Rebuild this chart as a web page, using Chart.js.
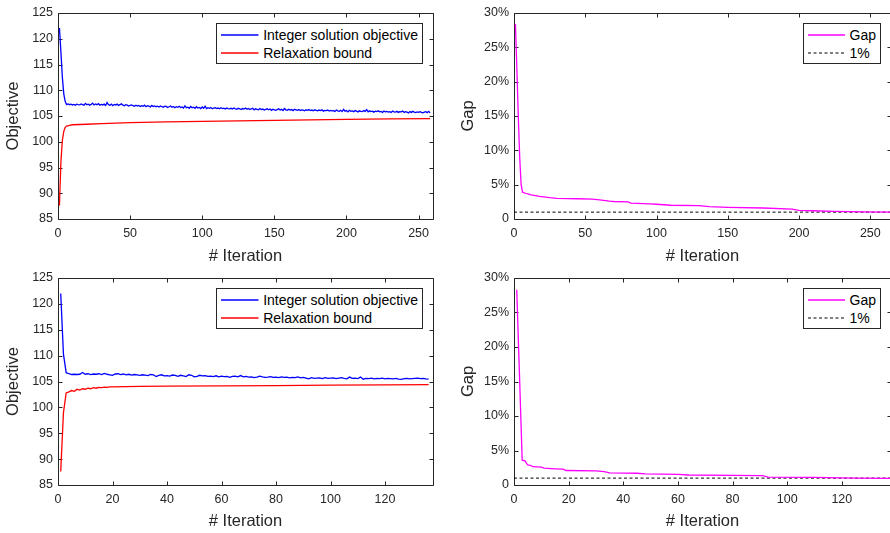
<!DOCTYPE html>
<html>
<head>
<meta charset="utf-8">
<script src="https://cdn.jsdelivr.net/npm/chart.js@4.4.1/dist/chart.umd.min.js"></script>
<style>
  html, body { margin: 0; padding: 0; background: #fff; }
  body { width: 890px; height: 533px; overflow: hidden; position: relative; font-family: "Liberation Sans", Arial, Helvetica, sans-serif; }
  canvas { position: absolute; }
  .legend { position: absolute; background: #fff; border: 1px solid #262626; padding: 1.5px 4px 1px 4px; font-size: 14px; color: #000; }
  .legend .row { display: flex; align-items: center; height: 18px; white-space: nowrap; }
  .legend svg { flex: none; margin-right: 4.5px; }
</style>
</head>
<body>
<canvas id="objTop" width="445" height="265" style="left:0;top:0"></canvas>
<canvas id="gapTop" width="450" height="265" style="left:445px;top:0"></canvas>
<canvas id="objBot" width="445" height="268" style="left:0;top:265px"></canvas>
<canvas id="gapBot" width="450" height="268" style="left:445px;top:265px"></canvas>
<script>
// ---- run 1 (top row), one value per iteration for the incumbent ----
const incumbentTop = [
  122.1, 117.5, 112.6, 109.3, 107.8, 107.2, 107.35, 107.2, 107.3, 107.15,
  107.25, 107.1, 107.3, 107.2, 107.15, 107.35, 107.2, 107.1, 107.45, 107.2,
  107.3, 107.1, 107.25, 107.5, 107.15, 107.35, 107.2, 107.4, 107.1, 107.25,
  107.15, 107.3, 107.05, 107.6, 107.2, 107.1, 107.3, 107.0, 107.25, 107.15,
  107.3, 107.05, 107.2, 107.35, 107.1, 107.0, 107.2, 107.1, 106.95, 107.05,
  107.15, 107.0, 106.9, 107.1, 106.95, 107.05, 106.85, 107.0, 106.9, 107.1,
  106.8, 107.0, 106.9, 106.75, 107.05, 106.85, 106.95, 106.8, 106.9, 106.75,
  106.95, 106.8, 106.7, 106.9, 106.85, 106.65, 106.8, 106.95, 106.7, 106.85,
  106.6, 106.8, 106.7, 106.9, 106.65, 106.75, 106.55, 106.95, 106.6, 106.7,
  106.5, 106.85, 106.6, 106.7, 106.5, 106.8, 106.55, 106.65, 106.45, 106.75,
  106.5, 106.9, 106.45, 106.6, 106.5, 106.65, 106.4, 106.55, 106.6, 106.45,
  106.55, 106.4, 106.6, 106.45, 106.5, 106.35, 106.55, 106.45, 106.4, 106.5,
  106.35, 106.55, 106.4, 106.3, 106.5, 106.4, 106.25, 106.45, 106.35, 106.55,
  106.3, 106.45, 106.25, 106.4, 106.5, 106.2, 106.4, 106.3, 106.2, 106.45,
  106.25, 106.35, 106.15, 106.3, 106.4, 106.2, 106.35, 106.1, 106.3, 106.2,
  106.1, 106.25, 106.4, 106.15, 106.3, 106.05, 106.45, 106.2, 106.1, 106.3,
  106.15, 106.25, 106.05, 106.3, 106.2, 106.1, 106.25, 106.05, 106.2, 106.15,
  106.0, 106.2, 106.1, 106.25, 106.05, 106.15, 106.0, 106.2, 106.1, 106.0,
  106.15, 106.05, 106.2, 105.95, 106.1, 106.05, 106.15, 105.95, 106.1, 106.0,
  106.05, 105.9, 106.15, 106.0, 105.9, 106.1, 105.85, 106.3, 105.95, 106.05,
  105.8, 106.1, 105.9, 106.0, 105.85, 106.05, 105.95, 105.8, 106.0, 105.9,
  105.85, 106.05, 105.9, 106.25, 105.8, 106.0, 105.85, 105.95, 105.75, 105.95,
  105.85, 106.0, 105.8, 105.9, 105.7, 105.95, 105.8, 105.9, 105.75, 105.85,
  105.7, 105.95, 105.8, 105.75, 105.9, 105.7, 105.85, 105.8, 105.95, 105.7,
  105.85, 105.75, 105.6, 105.85, 105.7, 105.9, 105.75, 105.65, 105.8, 105.7,
  105.85, 105.7, 105.6, 105.75, 105.85, 105.65, 105.9, 105.6
];
const relaxTopX = [1, 2, 3, 4, 5, 6, 8, 10, 15, 20, 30, 50, 75, 100, 125, 150, 175, 200, 230, 258];
const relaxTopY = [87.6, 96.0, 100.2, 102.0, 102.8, 103.05, 103.2, 103.3, 103.35, 103.4, 103.5, 103.7, 103.85, 103.95, 104.05, 104.15, 104.25, 104.35, 104.45, 104.5];
const gapTopX = [1, 2, 3, 4, 5, 6, 8, 12, 18, 25, 30, 45, 55, 60, 67, 70, 80, 82, 95, 100, 110, 130, 137, 150, 175, 195, 200, 210, 225, 245, 264];
const gapTopY = [28.4, 22, 15, 9, 5, 3.9, 3.75, 3.5, 3.3, 3.1, 3.0, 2.95, 2.9, 2.8, 2.6, 2.55, 2.5, 2.3, 2.2, 2.15, 2.0, 1.95, 1.8, 1.7, 1.6, 1.45, 1.25, 1.2, 1.1, 1.05, 1.0];

// ---- run 2 (bottom row) ----
const incumbentBot = [
  122.0, 110.3, 106.7, 106.5, 106.35, 106.4, 106.35, 106.4, 106.75, 106.4,
  106.5, 106.35, 106.45, 106.4, 106.5, 106.35, 106.55, 106.4, 106.3, 106.2,
  106.45, 106.5, 106.35, 106.45, 106.3, 106.4, 106.25, 106.35, 106.3, 106.2,
  106.3, 106.25, 106.15, 106.35, 106.3, 105.95, 106.2, 106.3, 106.1, 106.15,
  106.05, 106.25, 106.2, 106.0, 106.2, 106.1, 105.95, 106.3, 106.2, 105.9,
  106.0, 106.2, 106.1, 106.15, 106.0, 106.05, 105.95, 106.1, 105.9, 106.05,
  105.95, 106.0, 105.8, 106.0, 106.05, 105.9, 106.15, 105.9, 106.0, 105.85,
  105.9, 105.75, 105.85, 106.05, 105.9, 105.8, 105.85, 105.95, 105.8, 105.85,
  105.75, 105.9, 105.8, 105.85, 105.7, 105.8, 105.75, 105.9, 105.7, 105.8,
  105.65, 105.5, 105.75, 105.6, 105.65, 105.7, 105.55, 105.75, 105.6, 105.65,
  105.7, 105.55, 105.65, 105.75, 105.6, 105.5, 105.85, 105.6, 105.65, 105.55,
  105.85, 105.45, 105.6, 105.55, 105.65, 105.5, 105.6, 105.55, 105.65, 105.5,
  105.6, 105.55, 105.5, 105.6, 105.45, 105.4, 105.55, 105.6, 105.5, 105.55,
  105.6, 105.65, 105.55, 105.6, 105.5, 105.45
];
const relaxBotX = [1, 2, 3, 4, 5, 6, 7, 8, 9, 10, 11, 12, 13, 14, 15, 16, 17, 18, 19, 20, 25, 30, 40, 60, 80, 100, 120, 136];
const relaxBotY = [87.6, 99.0, 102.8, 103.0, 103.25, 103.1, 103.5, 103.35, 103.6, 103.5, 103.7, 103.6, 103.8, 103.7, 103.85, 103.8, 103.9, 103.85, 103.95, 103.95, 104.0, 104.05, 104.1, 104.15, 104.2, 104.3, 104.35, 104.4];
const gapBotX = [1, 2, 3, 4, 5, 6, 7, 10, 11, 15, 18, 19, 30, 33, 35, 45, 48, 60, 64, 80, 91, 93, 110, 125, 138];
const gapBotY = [28.3, 16, 3.6, 3.5, 2.9, 2.85, 2.65, 2.6, 2.45, 2.35, 2.3, 2.1, 2.05, 1.95, 1.75, 1.7, 1.6, 1.55, 1.45, 1.4, 1.35, 1.15, 1.1, 1.0, 0.95];

const targetGap = 1; // the 1% reference line

const FONT = '"Liberation Sans", Arial, Helvetica, sans-serif';
const AXIS = '#262626';

const pts = (xs, ys) => xs.map((x, i) => ({ x, y: ys[i] }));
const iterPts = (ys) => ys.map((y, i) => ({ x: i + 1, y }));

// MATLAB style box with inward ticks on all four sides
const boxTicks = {
  id: 'boxTicks',
  beforeDatasetsDraw(chart) {
    const { ctx, chartArea: a, scales: { x, y } } = chart;
    const L = Math.round(a.left) + 0.5, R = Math.round(a.right) + 0.5;
    const T = Math.round(a.top) + 0.5, B = Math.round(a.bottom) + 0.5;
    const len = 4;
    ctx.save();
    ctx.strokeStyle = AXIS;
    ctx.lineWidth = 1;
    ctx.beginPath();
    ctx.rect(L, T, R - L, B - T);
    x.ticks.forEach(t => {
      const px = Math.round(x.getPixelForValue(t.value)) + 0.5;
      ctx.moveTo(px, B); ctx.lineTo(px, B - len);
      ctx.moveTo(px, T); ctx.lineTo(px, T + len);
    });
    y.ticks.forEach(t => {
      const py = Math.round(y.getPixelForValue(t.value)) + 0.5;
      ctx.moveTo(L, py); ctx.lineTo(L + len, py);
      ctx.moveTo(R, py); ctx.lineTo(R - len, py);
    });
    ctx.stroke();
    ctx.restore();
  }
};

function lineSet(label, data, color, dash) {
  return {
    label, data,
    borderColor: color,
    borderWidth: dash ? 1 : 1.3,
    borderDash: dash || [],
    pointRadius: 0,
    tension: 0,
    fill: false
  };
}

function makeChart(id, o) {
  const tickFont = { family: FONT, size: 12.5 };
  const titleFont = { family: FONT, size: 16.5, lineHeight: 1 };
  return new Chart(document.getElementById(id), {
    type: 'line',
    data: { datasets: o.datasets },
    plugins: [boxTicks],
    options: {
      responsive: false,
      animation: false,
      layout: { padding: { left: 0, top: 13, right: o.padRight, bottom: 0 } },
      plugins: { legend: { display: false }, tooltip: { enabled: false } },
      scales: {
        x: {
          type: 'linear', min: 0, max: o.xMax,
          grid: { display: false, drawTicks: false }, border: { display: false },
          ticks: { stepSize: o.xStep, includeBounds: false, padding: 7, maxRotation: 0, color: AXIS, font: tickFont },
          title: { display: true, text: '# Iteration', color: AXIS, font: titleFont, padding: { top: 0, bottom: o.xTitlePad } },
          afterFit: s => { s.height = o.xHeight; }
        },
        y: {
          min: o.yMin, max: o.yMax,
          grid: { display: false, drawTicks: false }, border: { display: false },
          ticks: { stepSize: o.yStep, includeBounds: false, padding: 5, color: AXIS, font: tickFont, callback: o.yFmt },
          title: { display: true, text: o.yTitle, color: AXIS, font: titleFont, padding: { top: o.yTitlePad, bottom: 0 } },
          afterFit: s => { s.width = o.yWidth; }
        }
      }
    }
  });
}

// legend box drawn as html, built from the chart's datasets
function htmlLegend(chart, canvasLeft, canvasTop) {
  const box = document.createElement('div');
  box.className = 'legend';
  chart.data.datasets.forEach(ds => {
    const row = document.createElement('div');
    row.className = 'row';
    const dash = ds.borderDash && ds.borderDash.length ? ds.borderDash.join(' ') : 'none';
    row.innerHTML = '<svg width="37.5" height="4"><line x1="0" y1="2" x2="37.5" y2="2" stroke="' + ds.borderColor +
      '" stroke-width="' + ds.borderWidth + '" stroke-dasharray="' + dash + '"/></svg><span>' + ds.label + '</span>';
    box.appendChild(row);
  });
  const a = chart.chartArea;
  box.style.right = (890 - (canvasLeft + a.right - 10)) + 'px';
  box.style.top = (canvasTop + a.top + 10) + 'px';
  document.body.appendChild(box);
}

const pctFmt = v => (v === 0 ? '0' : v + '%');

const objTop = makeChart('objTop', {
  datasets: [
    lineSet('Integer solution objective', iterPts(incumbentTop), '#0000ff'),
    lineSet('Relaxation bound', pts(relaxTopX, relaxTopY), '#ff0000')
  ],
  xMax: 260, xStep: 50, yMin: 85, yMax: 125, yStep: 5,
  yTitle: 'Objective', yTitlePad: 5.3, yWidth: 58, xHeight: 46, xTitlePad: 0, padRight: 12
});
htmlLegend(objTop, 0, 0);

const gapTop = makeChart('gapTop', {
  datasets: [
    lineSet('Gap', pts(gapTopX, gapTopY), '#ff00ff'),
    lineSet('1%', pts([0, 264.5], [targetGap, targetGap]), '#000000', [3, 2.5])
  ],
  xMax: 264.5, xStep: 50, yMin: 0, yMax: 30, yStep: 5, yFmt: pctFmt,
  yTitle: 'Gap', yTitlePad: 15, yWidth: 69, xHeight: 46, xTitlePad: 0, padRight: 4
});
htmlLegend(gapTop, 445, 0);

const objBot = makeChart('objBot', {
  datasets: [
    lineSet('Integer solution objective', iterPts(incumbentBot), '#0000ff'),
    lineSet('Relaxation bound', pts(relaxBotX, relaxBotY), '#ff0000')
  ],
  xMax: 137.6, xStep: 20, yMin: 85, yMax: 125, yStep: 5,
  yTitle: 'Objective', yTitlePad: 5.3, yWidth: 58, xHeight: 48, xTitlePad: 3, padRight: 12
});
htmlLegend(objBot, 0, 265);

const gapBot = makeChart('gapBot', {
  datasets: [
    lineSet('Gap', pts(gapBotX, gapBotY), '#ff00ff'),
    lineSet('1%', pts([0, 138], [targetGap, targetGap]), '#000000', [3, 2.5])
  ],
  xMax: 138, xStep: 20, yMin: 0, yMax: 30, yStep: 5, yFmt: pctFmt,
  yTitle: 'Gap', yTitlePad: 15, yWidth: 69, xHeight: 48, xTitlePad: 3, padRight: 4
});
htmlLegend(gapBot, 445, 265);
</script>
</body>
</html>
